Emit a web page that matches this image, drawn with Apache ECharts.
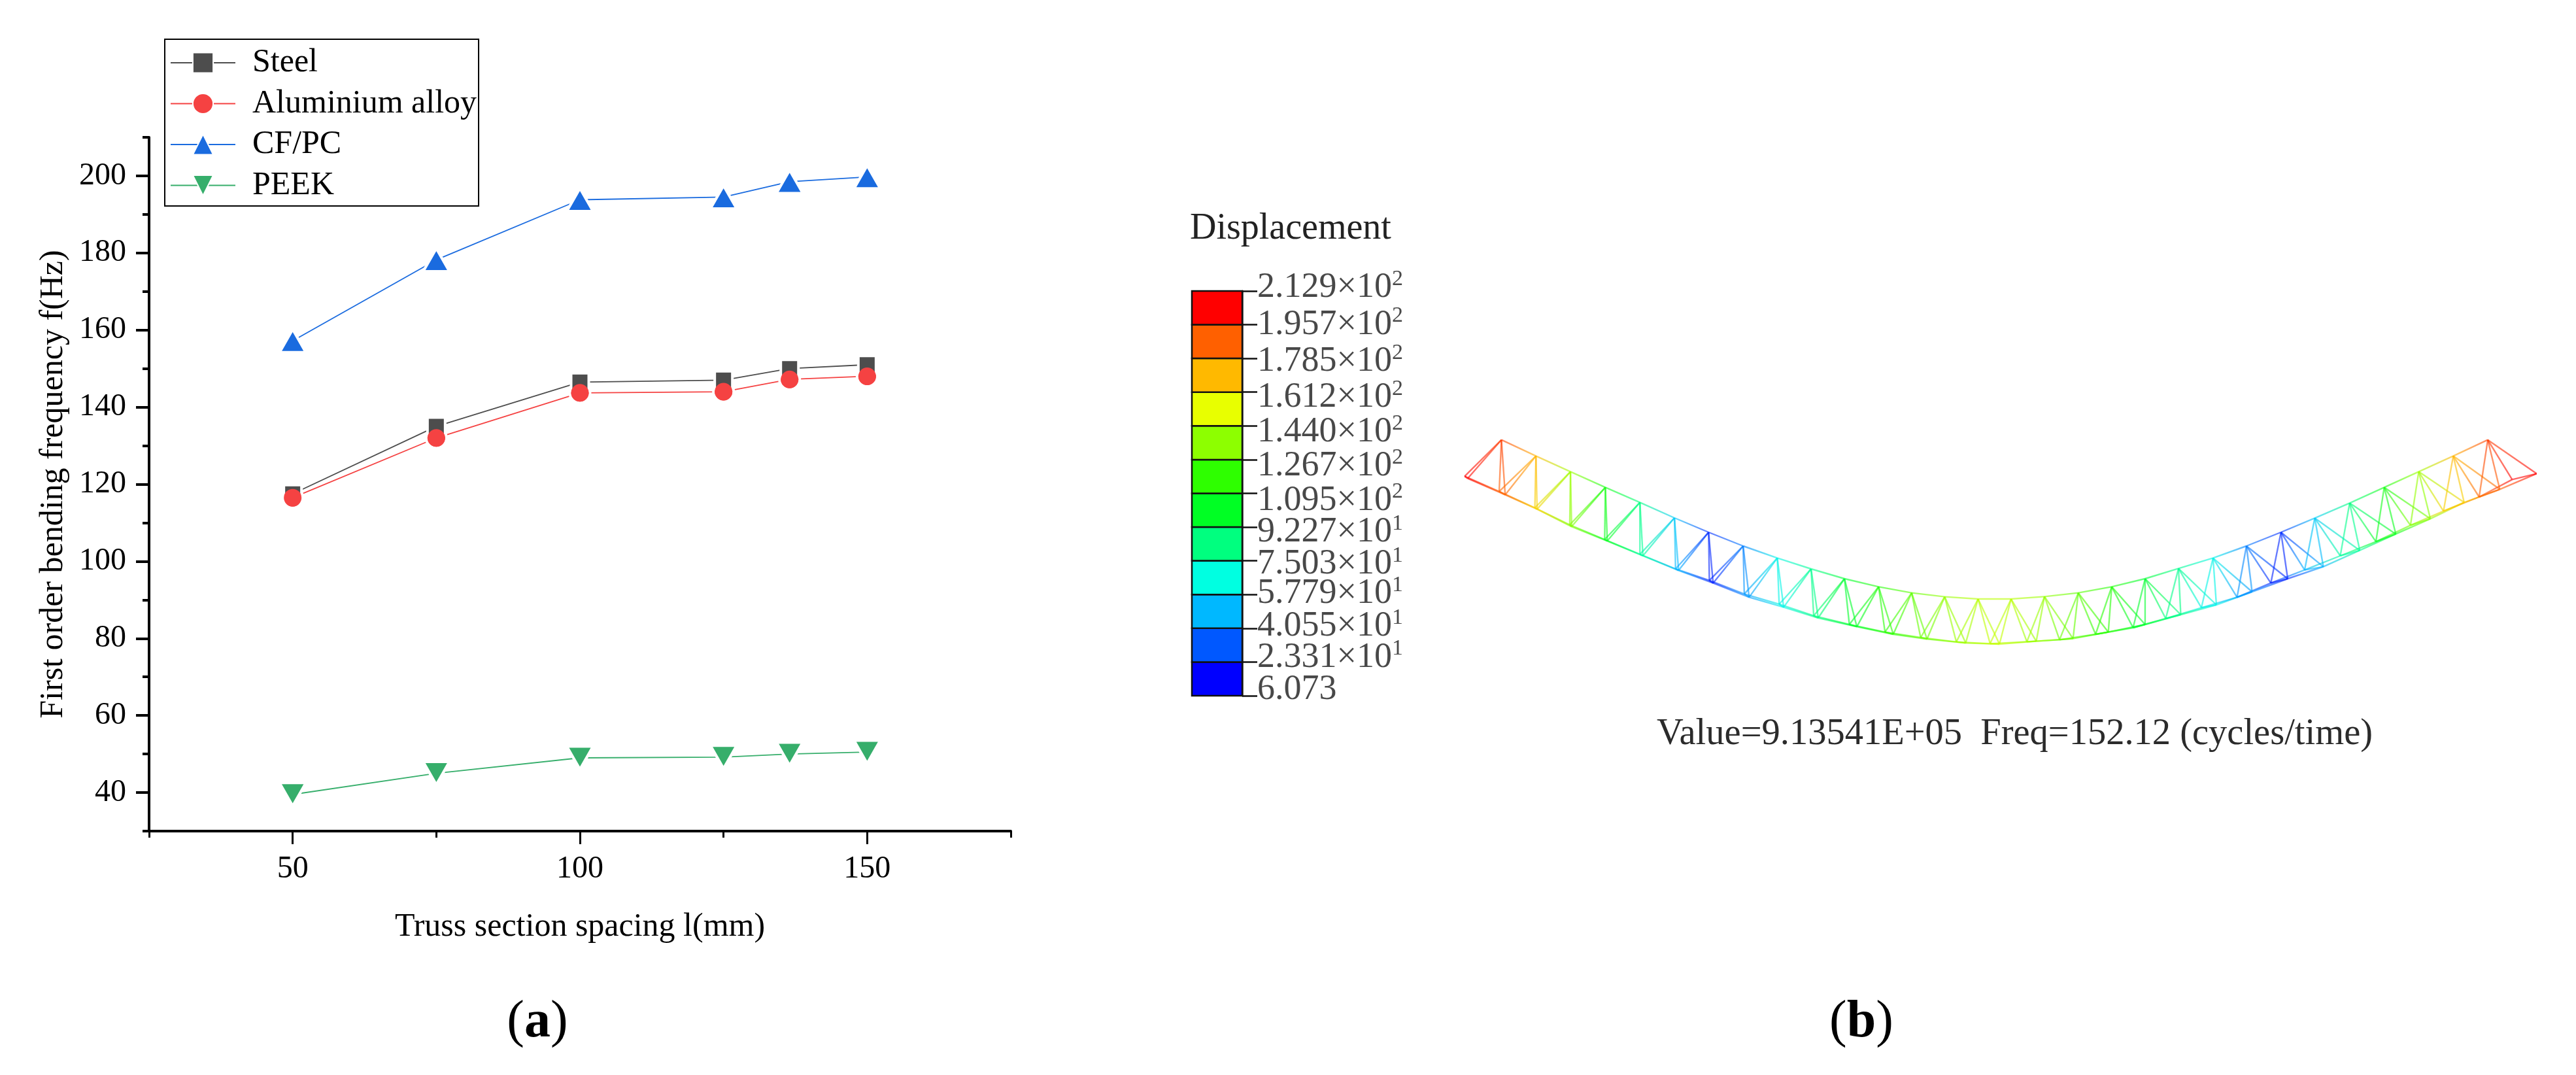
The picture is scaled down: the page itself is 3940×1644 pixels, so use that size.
<!DOCTYPE html>
<html>
<head>
<meta charset="utf-8">
<style>html,body{margin:0;padding:0;background:#fff}#chart{width:3940px;height:1644px}</style>
<script src="https://cdn.jsdelivr.net/npm/echarts@6/dist/echarts.min.js"></script>
</head>
<body>
<div id="chart"></div>
<script>
// ---- panel (a) data ----
const spacing = [50, 75, 100, 125, 136.5, 150];
const steel = [117.5, 135, 146.5, 147, 150, 151];
const aluminium = [116.5, 132, 143.7, 144, 147.2, 148];
const cfpc = [157.2, 178.2, 193.8, 194.5, 198.5, 199.7];
const peek = [39.5, 45, 49, 49.2, 50, 50.5];
const xMajor = [50, 100, 150];
const xMinor = [25, 75, 125, 175];
const yMajor = [40, 60, 80, 100, 120, 140, 160, 180, 200];
const yMinor = [30, 50, 70, 90, 110, 130, 150, 170, 190, 210];

// ---- panel (b) colour scale, low to high ----
const levels = [6.073, 23.31, 40.55, 57.79, 75.03, 92.27, 109.5, 126.7, 144.0, 161.2, 178.5, 195.7, 212.9];
const levelText = ['6.073', '2.331×10', '4.055×10', '5.779×10', '7.503×10', '9.227×10', '1.095×10', '1.267×10', '1.440×10', '1.612×10', '1.785×10', '1.957×10', '2.129×10'];
const levelExp = ['', '1', '1', '1', '1', '1', '2', '2', '2', '2', '2', '2', '2'];
const levelNudge = [-9.5, -7, -3, -1, 5, 8, 11, 10, 10, 8, 5, 0, -5];
const cellColors = ['#0000ff', '#0058ff', '#00b8ff', '#00ffe1', '#00ff7f', '#00ff24', '#2eff00', '#8dff00', '#e8ff00', '#ffb900', '#ff6000', '#ff0000'];

// ---- panel (b) truss nodes, with their displacement ----
const topX = [168, 260, 352, 445, 537, 629, 720, 812, 903, 993, 1082, 1173, 1261, 1349, 1438, 1526, 1615, 1705, 1794, 1883, 1972, 2064, 2153, 2245, 2335, 2428, 2520, 2612, 2704, 2796];
const topY = [158, 232, 304, 376, 445, 516, 582, 645, 700, 750, 795, 832, 860, 878, 888, 888, 877, 860, 832, 795, 748, 700, 645, 582, 517, 448, 376, 304, 232, 158];
const topDisp = [185, 162, 130, 100, 75, 45, 14, 30, 55, 72, 90, 105, 118, 128, 135, 135, 128, 118, 105, 90, 72, 55, 30, 14, 45, 75, 100, 130, 162, 185];
const chordAX = [70, 162, 257, 350, 443, 537, 632, 722, 815, 908, 1000, 1095, 1190, 1285, 1380, 1470, 1568, 1655, 1751, 1851, 1938, 2033, 2128, 2218, 2308, 2403, 2498, 2590, 2678, 2773, 2861];
const chordAY = [325, 395, 470, 548, 615, 683, 750, 803, 865, 912, 965, 1005, 1040, 1065, 1085, 1093, 1084, 1075, 1050, 1020, 978, 928, 880, 815, 755, 690, 625, 550, 485, 420, 340];
const chordBX = [78, 178, 263, 355, 450, 545, 640, 732, 828, 920, 1012, 1115, 1212, 1302, 1405, 1495, 1593, 1691, 1785, 1883, 1978, 2073, 2168, 2263, 2358, 2455, 2551, 2643, 2733, 2828, 2926];
const chordBY = [335, 410, 476, 556, 622, 690, 757, 815, 880, 926, 975, 1015, 1050, 1072, 1090, 1095, 1082, 1070, 1040, 1005, 960, 915, 855, 795, 740, 665, 590, 520, 445, 385, 313];
const chordDisp = [212, 178, 155, 125, 95, 70, 40, 12, 35, 55, 75, 92, 108, 120, 130, 137, 130, 120, 108, 92, 75, 55, 35, 12, 40, 70, 95, 125, 155, 178, 212];

// ---- build ----
const SERIF = '"Liberation Serif","Times New Roman",serif';
const chart = echarts.init(document.getElementById('chart'), null, { renderer: 'canvas' });
const xy = vals => vals.map((v, i) => [spacing[i], v]);
const dispColor = v => echarts.color.lerp(Math.max(0, Math.min(1, (v - levels[0]) / (levels[12] - levels[0]))), cellColors.concat(cellColors[11]));

const segments = [];
const seg = (x1, y1, v1, x2, y2, v2) => segments.push([x1, y1, x2, y2, v1, v2]);
for (let k = 0; k < chordAX.length - 1; k++) {
  seg(chordAX[k], chordAY[k], chordDisp[k], chordAX[k + 1], chordAY[k + 1], chordDisp[k + 1]);
  seg(chordBX[k], chordBY[k], chordDisp[k], chordBX[k + 1], chordBY[k + 1], chordDisp[k + 1]);
}
for (let k = 0; k < chordAX.length; k++) seg(chordAX[k], chordAY[k], chordDisp[k], chordBX[k], chordBY[k], chordDisp[k]);
for (let t = 0; t < topX.length; t++) {
  if (t < topX.length - 1) seg(topX[t], topY[t], topDisp[t], topX[t + 1], topY[t + 1], topDisp[t + 1]);
  [t, t + 1].forEach(k => {
    seg(topX[t], topY[t], topDisp[t], chordAX[k], chordAY[k], chordDisp[k]);
    seg(topX[t], topY[t], topDisp[t], chordBX[k], chordBY[k], chordDisp[k]);
  });
}

const plotLine = (name, data, color, symbol, size, rotate) => ({
  name, type: 'line', data: xy(data), xAxisIndex: 0, yAxisIndex: 0, symbol, symbolSize: size, symbolRotate: rotate || 0,
  showAllSymbol: true, animation: false, clip: false,
  lineStyle: { color, width: 1.8 },
  itemStyle: { color, borderColor: '#ffffff', borderWidth: 4 }
});
const parenRich = {
  r: { fontFamily: SERIF, fontSize: 80, fontWeight: 'normal', color: '#000' },
  b: { fontFamily: SERIF, fontSize: 80, fontWeight: 'bold', color: '#000' }
};

const option = {
  backgroundColor: '#ffffff',
  animation: false,
  textStyle: { fontFamily: SERIF },
  title: [
    { text: 'Displacement', left: 1820, top: 350, padding: 0, textVerticalAlign: 'middle', textStyle: { fontFamily: SERIF, fontSize: 56, fontWeight: 'normal', color: '#222222' } },
    { text: 'Value=9.13541E+05  Freq=152.12 (cycles/time)', left: 2534, top: 1123, padding: 0, textVerticalAlign: 'middle', textStyle: { fontFamily: SERIF, fontSize: 56.5, fontWeight: 'normal', color: '#2b2b2b' } },
    { text: '{r|(}{b|a}{r|)}', left: 822, top: 1564, padding: 0, textAlign: 'center', textVerticalAlign: 'middle', textStyle: { fontWeight: 'normal', rich: parenRich } },
    { text: '{r|(}{b|b}{r|)}', left: 2847, top: 1564, padding: 0, textAlign: 'center', textVerticalAlign: 'middle', textStyle: { fontWeight: 'normal', rich: parenRich } }
  ],
  legend: {
    orient: 'vertical', left: 252, top: 60, align: 'left',
    padding: [11, 3, 6.5, 8], itemWidth: 99, itemHeight: 39, itemGap: 12.5,
    borderColor: '#000', borderWidth: 2, backgroundColor: '#fff',
    data: ['Steel', 'Aluminium alloy', 'CF/PC', 'PEEK'],
    textStyle: { fontFamily: SERIF, fontSize: 50, color: '#000', padding: [0, 0, 0, 21] }
  },
  grid: [
    { left: 228, top: 210, width: 1318, height: 1061 },
    { left: 1823, top: 445, width: 77, height: 619 },
    { left: 2200, top: 620, width: 1700, height: 400 }
  ],
  xAxis: [
    {
      type: 'value', gridIndex: 0, min: 25, max: 175, position: 'bottom',
      name: 'Truss section spacing l(mm)', nameLocation: 'middle', nameGap: 122,
      nameTextStyle: { fontFamily: SERIF, fontSize: 50, color: '#000' },
      axisLine: { show: true, onZero: false, lineStyle: { color: '#000', width: 4 } },
      axisTick: { show: true, length: 20, customValues: xMajor, lineStyle: { color: '#000', width: 3 } },
      axisLabel: { show: true, margin: 34, customValues: xMajor, fontFamily: SERIF, fontSize: 48, color: '#000' },
      splitLine: { show: false }
    },
    {
      type: 'value', gridIndex: 0, min: 25, max: 175, position: 'bottom',
      axisLine: { show: false, onZero: false },
      axisTick: { show: true, length: 10, customValues: xMinor, lineStyle: { color: '#000', width: 3 } },
      axisLabel: { show: false }, splitLine: { show: false }
    },
    { type: 'value', gridIndex: 1, min: 0, max: 1, show: false },
    { type: 'value', gridIndex: 2, min: 0, max: 2961.4, show: false }
  ],
  yAxis: [
    {
      type: 'value', gridIndex: 0, min: 30, max: 210, position: 'left',
      name: 'First order bending frequency f(Hz)', nameLocation: 'middle', nameGap: 121,
      nameTextStyle: { fontFamily: SERIF, fontSize: 50, color: '#000' },
      axisLine: { show: true, onZero: false, lineStyle: { color: '#000', width: 4 } },
      axisTick: { show: true, length: 20, customValues: yMajor, lineStyle: { color: '#000', width: 4 } },
      axisLabel: { show: true, margin: 35, customValues: yMajor, fontFamily: SERIF, fontSize: 48, color: '#000' },
      splitLine: { show: false }
    },
    {
      type: 'value', gridIndex: 0, min: 30, max: 210, position: 'left',
      axisLine: { show: false, onZero: false },
      axisTick: { show: true, length: 10, customValues: yMinor, lineStyle: { color: '#000', width: 4 } },
      axisLabel: { show: false }, splitLine: { show: false }
    },
    {
      type: 'value', gridIndex: 1, min: levels[0], max: levels[12], position: 'right',
      axisLine: { show: true, onZero: false, lineStyle: { color: '#777', width: 3 } },
      axisTick: { show: true, length: 23, customValues: levels, lineStyle: { color: '#111', width: 2.5 } },
      axisLabel: { show: false }, splitLine: { show: false }
    },
    { type: 'value', gridIndex: 2, min: 0, max: 1200, inverse: true, show: false }
  ],
  series: [
    plotLine('Aluminium alloy', aluminium, '#f54242', 'circle', 31),
    plotLine('Steel', steel, '#4d4d4d', 'rect', 27),
    // aluminium markers again, without their white ring, so they sit directly on the steel squares
    {
      type: 'line', name: 'Aluminium markers', data: xy(aluminium), xAxisIndex: 0, yAxisIndex: 0,
      symbol: 'circle', symbolSize: 27, showAllSymbol: true, clip: false, silent: true,
      lineStyle: { width: 0, opacity: 0 }, itemStyle: { color: '#f54242' }
    },
    plotLine('CF/PC', cfpc, '#1a6bdf', 'triangle', [40, 35]),
    plotLine('PEEK', peek, '#36ae6b', 'triangle', [40, 35], 180),
    {
      type: 'custom', xAxisIndex: 2, yAxisIndex: 2, silent: true, clip: false,
      data: cellColors.map((c, i) => [0, levels[i], 1, levels[i + 1], i]),
      encode: { x: [0, 2], y: [1, 3] },
      renderItem: (params, api) => {
        const a = api.coord([api.value(0), api.value(3)]);
        const b = api.coord([api.value(2), api.value(1)]);
        return {
          type: 'rect', shape: { x: a[0], y: a[1], width: b[0] - a[0], height: b[1] - a[1] },
          style: { fill: cellColors[api.value(4)], stroke: '#111', lineWidth: 2.5 }
        };
      }
    },
    {
      type: 'scatter', xAxisIndex: 2, yAxisIndex: 2, symbolSize: 0, silent: true, clip: false,
      data: levels.map((v, i) => ({
        value: [1, v],
        label: {
          show: true, position: 'right', distance: 23, offset: [0, levelNudge[i]],
          formatter: levelExp[i] ? `{m|${levelText[i]}}{s|${levelExp[i]}}` : `{m|${levelText[i]}}`,
          rich: {
            m: { fontFamily: SERIF, fontSize: 54, color: '#1a1a1a', lineHeight: 60 },
            s: { fontFamily: SERIF, fontSize: 34, color: '#1a1a1a', verticalAlign: 'top', lineHeight: 34 }
          }
        }
      }))
    },
    {
      type: 'custom', xAxisIndex: 3, yAxisIndex: 3, silent: true, clip: false,
      data: segments,
      encode: { x: [0, 2], y: [1, 3] },
      renderItem: (params, api) => {
        const a = api.coord([api.value(0), api.value(1)]);
        const b = api.coord([api.value(2), api.value(3)]);
        return {
          type: 'line', shape: { x1: a[0], y1: a[1], x2: b[0], y2: b[1] },
          style: {
            lineWidth: 2.4, opacity: 0.6,
            stroke: new echarts.graphic.LinearGradient(a[0], a[1], b[0], b[1], [
              { offset: 0, color: dispColor(api.value(4)) },
              { offset: 1, color: dispColor(api.value(5)) }
            ], true)
          }
        };
      }
    }
  ]
};
chart.setOption(option);
</script>
</body>
</html>
